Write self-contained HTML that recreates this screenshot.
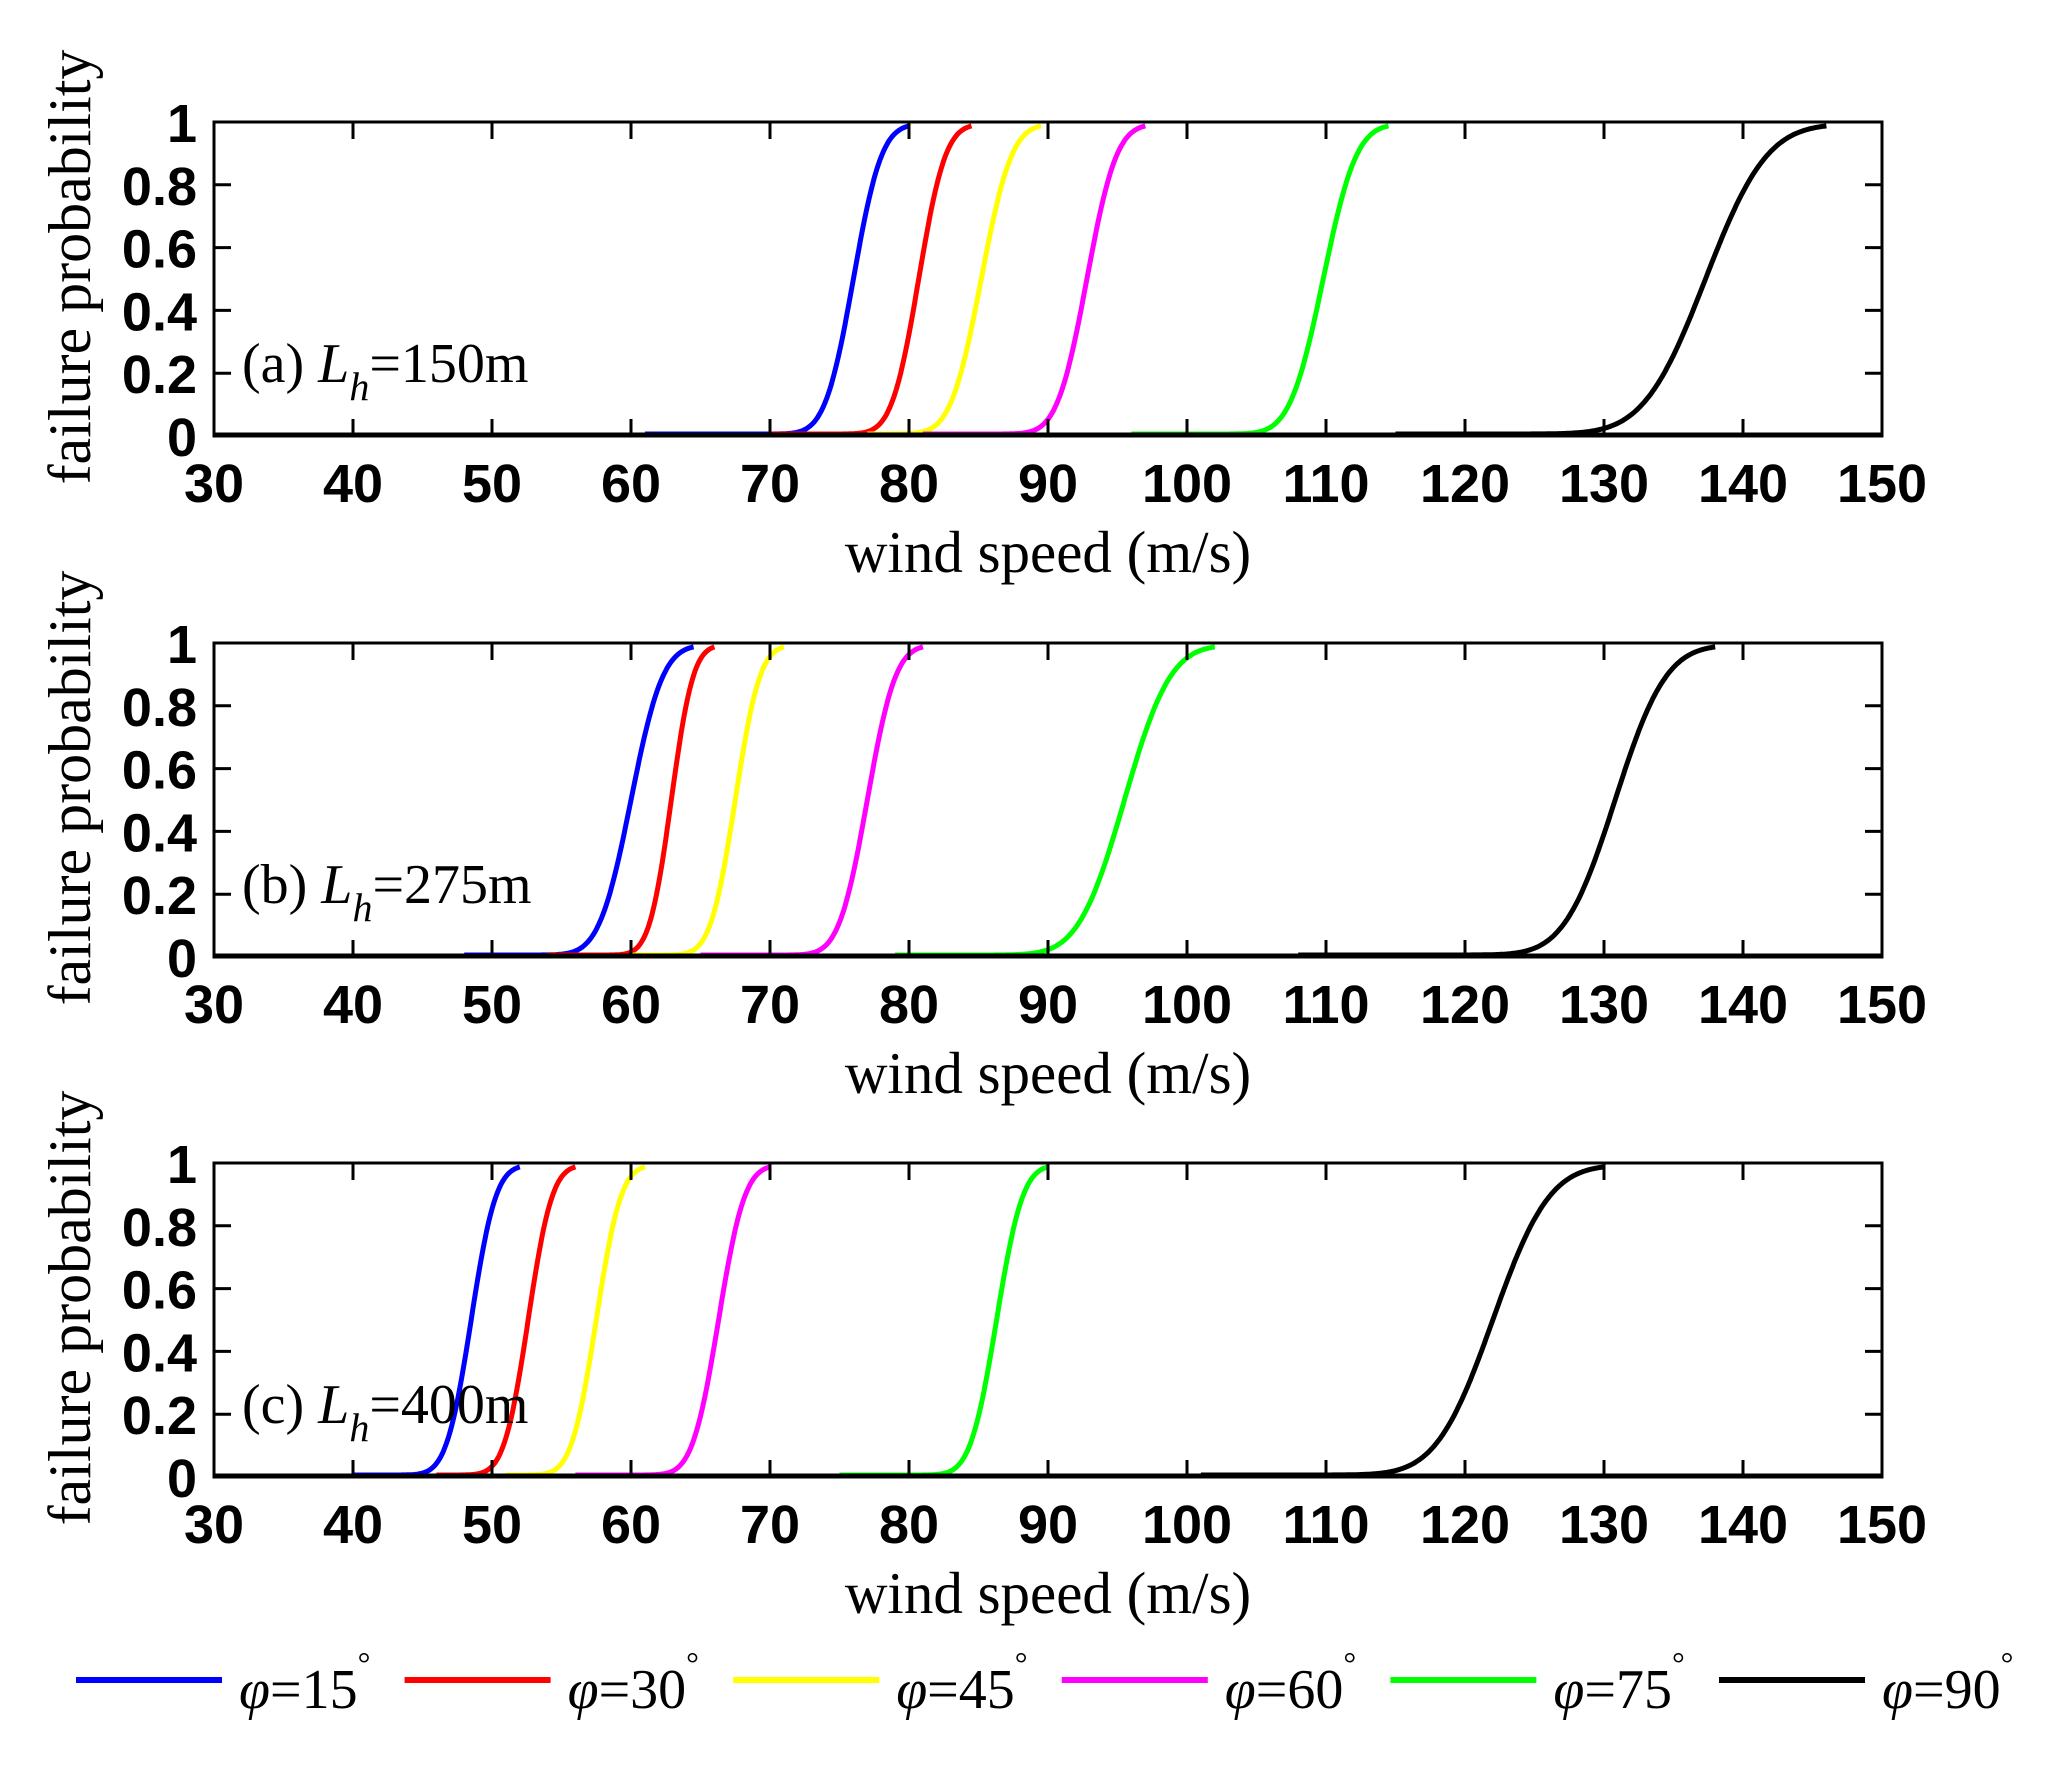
<!DOCTYPE html>
<html><head><meta charset="utf-8"><style>
html,body{margin:0;padding:0;background:#fff;}
svg{display:block;}
.tk{font-family:"Liberation Sans",sans-serif;font-size:54px;font-weight:bold;fill:#000;}
.sf{font-family:"Liberation Serif",serif;fill:#000;}
</style></head><body>
<svg id="s" width="2050" height="1766" viewBox="0 0 2050 1766" xmlns="http://www.w3.org/2000/svg"></svg>
<script>
var s=document.getElementById('s');var h='';
var L=214,R=1882,H=314,tops=[122,643,1163];
function X(v){return L+(v-30)*(R-L)/120;}
function erf(x){var t=1/(1+0.3275911*Math.abs(x));var y=1-(((((1.061405429*t-1.453152027)*t)+1.421413741)*t-0.284496736)*t+0.254829592)*t*Math.exp(-x*x);return x>=0?y:-y;}
var cols=['#0000ff','#ff0000','#ffff00','#ff00ff','#00ff00','#000000'];
var data=[
[[61,76,80],[70,80.7,84.5],[77,85.2,89.5],[81,92.8,97],[96,109.8,114.5],[115,137.3,146]],
[[48,60,64.5],[54,62.9,66],[60,67.5,71],[65,77,81],[79,95.5,102],[108,130.8,138]],
[[40,48.5,52],[46,52.6,56],[51,57.5,61],[56,66.3,70],[75,86.3,90],[101,122,130]]];
var labs=['(a) ','(b) ','(c) '],vals=['=150m','=275m','=400m'];
for(var p=0;p<3;p++){
 var T=tops[p],B=T+H;
 function Y(v){return B-2-v*(H-4);}
 for(var k=0;k<6;k++){
  var d=data[p][k],st=d[0],mu=d[1],sg=(d[2]-mu)/2.5;
  var pts=[];
  for(var v=st;v<=d[2]+0.001;v+=0.1){var c=0.5*(1+erf((v-mu)/(sg*Math.SQRT2)));pts.push(X(v).toFixed(1)+','+Y(c).toFixed(1));}
  h+='<polyline points="'+pts.join(' ')+'" fill="none" stroke="'+cols[k]+'" stroke-width="5"/>';
 }
 h+='<rect x="'+L+'" y="'+T+'" width="'+(R-L)+'" height="'+H+'" fill="none" stroke="#000" stroke-width="3"/>';
 h+='<line x1="'+L+'" y1="'+(B-1)+'" x2="'+R+'" y2="'+(B-1)+'" stroke="#000" stroke-width="5"/>';
 for(var v=30;v<=150;v+=10){var x=X(v);
  if(v>30&&v<150){h+='<line x1="'+x+'" y1="'+T+'" x2="'+x+'" y2="'+(T+17)+'" stroke="#000" stroke-width="3"/><line x1="'+x+'" y1="'+B+'" x2="'+x+'" y2="'+(B-17)+'" stroke="#000" stroke-width="3"/>';}
  h+='<text class="tk" x="'+x+'" y="'+(B+66)+'" text-anchor="middle">'+v+'</text>';}
 var yl=['0','0.2','0.4','0.6','0.8','1'];
 for(var i=0;i<6;i++){var y=B-i*H/5;
  if(i>0&&i<5){h+='<line x1="'+L+'" y1="'+y+'" x2="'+(L+17)+'" y2="'+y+'" stroke="#000" stroke-width="3"/><line x1="'+R+'" y1="'+y+'" x2="'+(R-17)+'" y2="'+y+'" stroke="#000" stroke-width="3"/>';}
  h+='<text class="tk" x="197" y="'+(y+20)+'" text-anchor="end">'+yl[i]+'</text>';}
 h+='<text class="sf" font-size="59" x="1048" y="'+(B+136)+'" text-anchor="middle">wind speed (m/s)</text>';
 h+='<text class="sf" font-size="60" transform="translate(90,'+(T+H/2-12)+') rotate(-90)" text-anchor="middle">failure probability</text>';
 h+='<text class="sf" font-size="56" x="242" y="'+(T+260)+'">'+labs[p]+'<tspan font-style="italic">L</tspan><tspan font-style="italic" font-size="40" dy="18">h</tspan><tspan dy="-18">'+vals[p]+'</tspan></text>';
}
var ang=['15','30','45','60','75','90'];
for(var k=0;k<6;k++){var x0=76+k*328.6;
 h+='<line x1="'+x0+'" y1="1680" x2="'+(x0+146)+'" y2="1680" stroke="'+cols[k]+'" stroke-width="6"/>';
 h+='<text class="sf" font-size="56" x="'+(x0+163)+'" y="1708"><tspan font-style="italic">φ</tspan>='+ang[k]+'<tspan font-size="32" dy="-34">°</tspan></text>';}
s.innerHTML=h;
</script>
</body></html>
